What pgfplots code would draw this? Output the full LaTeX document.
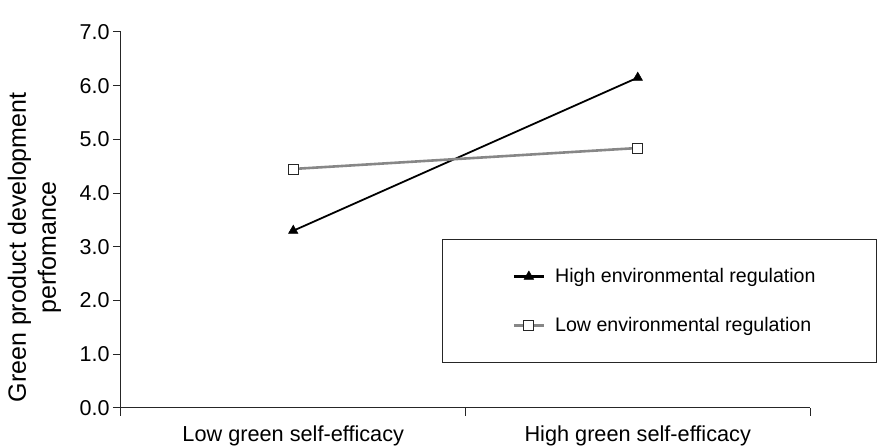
\documentclass[border=0pt]{standalone}
\usepackage{pgfplots}
\pgfplotsset{compat=1.18}
\usepackage{fontspec}
\setmainfont{Liberation Sans}
\usetikzlibrary{calc}
\definecolor{lowgray}{RGB}{135,135,135}
\begin{document}
\begin{tikzpicture}
\begin{axis}[name=ax, scale only axis, width=689pt, height=376pt,
  xmin=0, xmax=2, ymin=0, ymax=7,
  axis x line=bottom, axis y line=left,
  axis line style={-, line width=1pt, black!85},
  xtick={0,1,2}, xticklabels={,,},
  extra x ticks={0.5,1.5},
  extra x tick labels={Low green self-efficacy, High green self-efficacy},
  extra x tick style={major tick length=0pt, tick style={draw=none}, grid=none,
     xticklabel style={font=\fontsize{21.7}{26}\selectfont, yshift=-14pt}},
  ytick={0,1,...,7},
  yticklabel={\pgfmathprintnumber[fixed,fixed zerofill,precision=1]{\tick}},
  yticklabel style={font=\fontsize{21.5}{25}\selectfont},
  /pgf/number format/assume math mode=true,
  tick align=outside, major tick length=8pt,
  tick style={black!85, line width=1pt},
  ylabel={Green product development\\perfomance},
  ylabel style={align=center, font=\fontsize{25}{30}\selectfont,
     at={(rel axis cs:-0.082,0.427)}, anchor=south, rotate=0},
  legend style={at={(rel axis cs:0.466,0.449)}, anchor=north west,
     draw=black!85, line width=1pt, inner xsep=59pt, inner ysep=27pt,
     row sep=29pt, font=\fontsize{19.6}{23}\selectfont},
  legend cell align=left,
  clip=false,
]
\addplot[black, line width=1.8pt, mark=triangle*, mark size=5.5pt,
  mark options={solid, fill=black, line width=0.5pt},
  legend image code/.code={
    \path (-11pt,0pt) (38pt,0pt);
    \pgfsetlinewidth{2.2pt}
    \draw[black, line width=2.2pt] (0pt,0pt) -- (30pt,0pt);
    \draw[black, line width=0.5pt, mark repeat=2, mark phase=2, mark=triangle*, mark size=5.5pt,
      mark options={solid, fill=black}, draw=none]
      plot coordinates {(0pt,0pt) (15pt,0pt) (30pt,0pt)};}]
  coordinates {(0.5,3.30) (1.5,6.15)};
\addlegendentry{High environmental regulation}
\addplot[lowgray, line width=2.6pt, mark=square*, mark size=5pt,
  mark options={solid, fill=white, draw=black!85, line width=0.8pt},
  legend image code/.code={
    \path (-11pt,0pt) (38pt,0pt);
    \pgfsetlinewidth{3pt}
    \draw[lowgray, line width=3pt] (0pt,0pt) -- (30pt,0pt);
    \draw[lowgray, mark repeat=2, mark phase=2, mark=square*, mark size=5pt,
      mark options={solid, fill=white, draw=black!85, line width=0.8pt}, draw=none]
      plot coordinates {(0pt,0pt) (15pt,0pt) (30pt,0pt)};}]
  coordinates {(0.5,4.45) (1.5,4.84)};
\addlegendentry{Low environmental regulation}
\end{axis}
\pgfresetboundingbox
\path ($(ax.south west)+(-121pt,-38pt)$) rectangle +(879pt,446pt);
\end{tikzpicture}
\end{document}
